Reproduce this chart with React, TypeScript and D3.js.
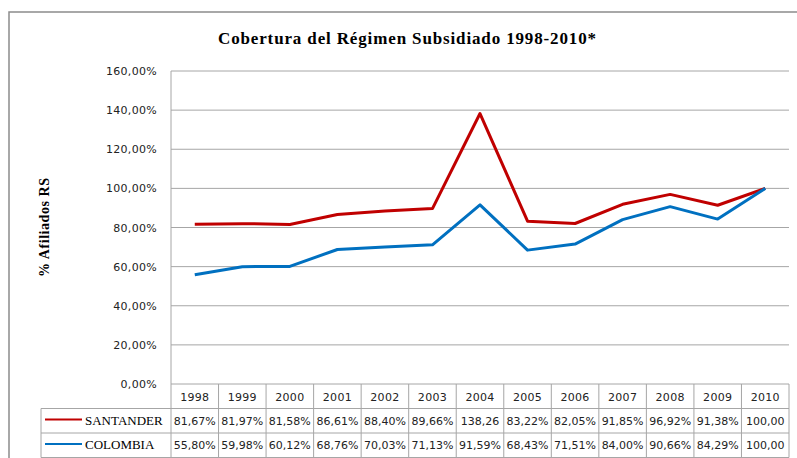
import * as d3 from 'd3';

const width = 797;
const height = 458;
const plotLeft = 171;
const plotRight = 789;
const plotTop = 71;
const plotBottom = 384;
const rowH = 24.5;

const years = ['1998', '1999', '2000', '2001', '2002', '2003', '2004', '2005', '2006', '2007', '2008', '2009', '2010'];
const santander = [81.67, 81.97, 81.58, 86.61, 88.4, 89.66, 138.26, 83.22, 82.05, 91.85, 96.92, 91.38, 100.0];
const colombia = [55.8, 59.98, 60.12, 68.76, 70.03, 71.13, 91.59, 68.43, 71.51, 84.0, 90.66, 84.29, 100.0];
const santanderLabels = ['81,67%', '81,97%', '81,58%', '86,61%', '88,40%', '89,66%', '138,26', '83,22%', '82,05%', '91,85%', '96,92%', '91,38%', '100,00'];
const colombiaLabels = ['55,80%', '59,98%', '60,12%', '68,76%', '70,03%', '71,13%', '91,59%', '68,43%', '71,51%', '84,00%', '90,66%', '84,29%', '100,00'];
const yTicks = [0, 20, 40, 60, 80, 100, 120, 140, 160];

const series = [
  { name: 'SANTANDER', values: santander, labels: santanderLabels, color: '#C00000' },
  { name: 'COLOMBIA', values: colombia, labels: colombiaLabels, color: '#0070C0' },
];

const sans = 'DejaVu Sans, sans-serif';
const serif = 'Liberation Serif, Times New Roman, serif';
const gridColor = '#a6a6a6';

export default function App() {
  const x = d3.scaleBand<string>().domain(years).range([plotLeft, plotRight]);
  const y = d3.scaleLinear().domain([0, 160]).range([plotBottom, plotTop]);
  const cx = (yr: string) => (x(yr) ?? 0) + x.bandwidth() / 2;

  const line = d3
    .line<number>()
    .x((_, i) => cx(years[i]))
    .y((d) => y(d));

  const tableBottom = plotBottom + rowH * 3;

  return (
    <svg
      width={width}
      height={height}
      style={{ position: 'absolute', left: 0, top: 0, background: '#fff' }}
    >
      {/* marco del gráfico */}
      <rect x={9} y={12} width={800} height={460} fill="#fff" stroke="#8c8c8c" strokeWidth={1.5} />

      <text
        x={218}
        y={44}
        fontFamily={serif}
        fontWeight="bold"
        fontSize={17}
        textLength={378}
        lengthAdjust="spacing"
        fill="#000"
      >
        Cobertura del Régimen Subsidiado 1998-2010*
      </text>

      <text
        transform={`translate(49,277) rotate(-90)`}
        fontFamily={serif}
        fontWeight="bold"
        fontSize={14}
        textLength={99}
        lengthAdjust="spacing"
        fill="#000"
      >
        % Afiliados RS
      </text>

      {/* grilla y eje y */}
      {yTicks.map((t) => (
        <g key={t}>
          <line x1={plotLeft} x2={plotRight} y1={y(t)} y2={y(t)} stroke={gridColor} strokeWidth={1} />
          <text x={157} y={y(t) + 4} textAnchor="end" fontFamily={sans} fontSize={11} letterSpacing={0.3} fill="#222">
            {t},00%
          </text>
        </g>
      ))}
      <line x1={plotLeft} x2={plotLeft} y1={plotTop} y2={tableBottom} stroke={gridColor} />

      {/* tabla de datos */}
      {years.map((yr, i) => (
        <g key={yr}>
          <line
            x1={(x(yr) ?? 0) + x.bandwidth()}
            x2={(x(yr) ?? 0) + x.bandwidth()}
            y1={plotBottom}
            y2={tableBottom}
            stroke={gridColor}
          />
          <text x={cx(yr)} y={plotBottom + 17} textAnchor="middle" fontFamily={sans} fontSize={11} letterSpacing={0.3} fill="#222">
            {yr}
          </text>
          {series.map((s, j) => (
            <text
              key={s.name}
              x={cx(yr)}
              y={plotBottom + rowH * (j + 1) + 16}
              textAnchor="middle"
              fontFamily={sans}
              fontSize={11}
              fill="#222"
            >
              {s.labels[i]}
            </text>
          ))}
        </g>
      ))}
      {[1, 2, 3].map((r) => (
        <line
          key={r}
          x1={41}
          x2={plotRight}
          y1={plotBottom + rowH * r}
          y2={plotBottom + rowH * r}
          stroke={gridColor}
        />
      ))}
      <line x1={41} x2={41} y1={plotBottom + rowH} y2={tableBottom} stroke={gridColor} />

      {series.map((s, j) => (
        <g key={s.name}>
          <line
            x1={45}
            x2={82}
            y1={plotBottom + rowH * (j + 1) + 11}
            y2={plotBottom + rowH * (j + 1) + 11}
            stroke={s.color}
            strokeWidth={2}
          />
          <text x={85} y={plotBottom + rowH * (j + 1) + 16} fontFamily={serif} fontSize={13} fill="#000">
            {s.name}
          </text>
        </g>
      ))}

      {/* series */}
      {series.map((s) => (
        <path
          key={s.name}
          d={line(s.values) ?? ''}
          fill="none"
          stroke={s.color}
          strokeWidth={3}
          strokeLinejoin="round"
        />
      ))}
    </svg>
  );
}
